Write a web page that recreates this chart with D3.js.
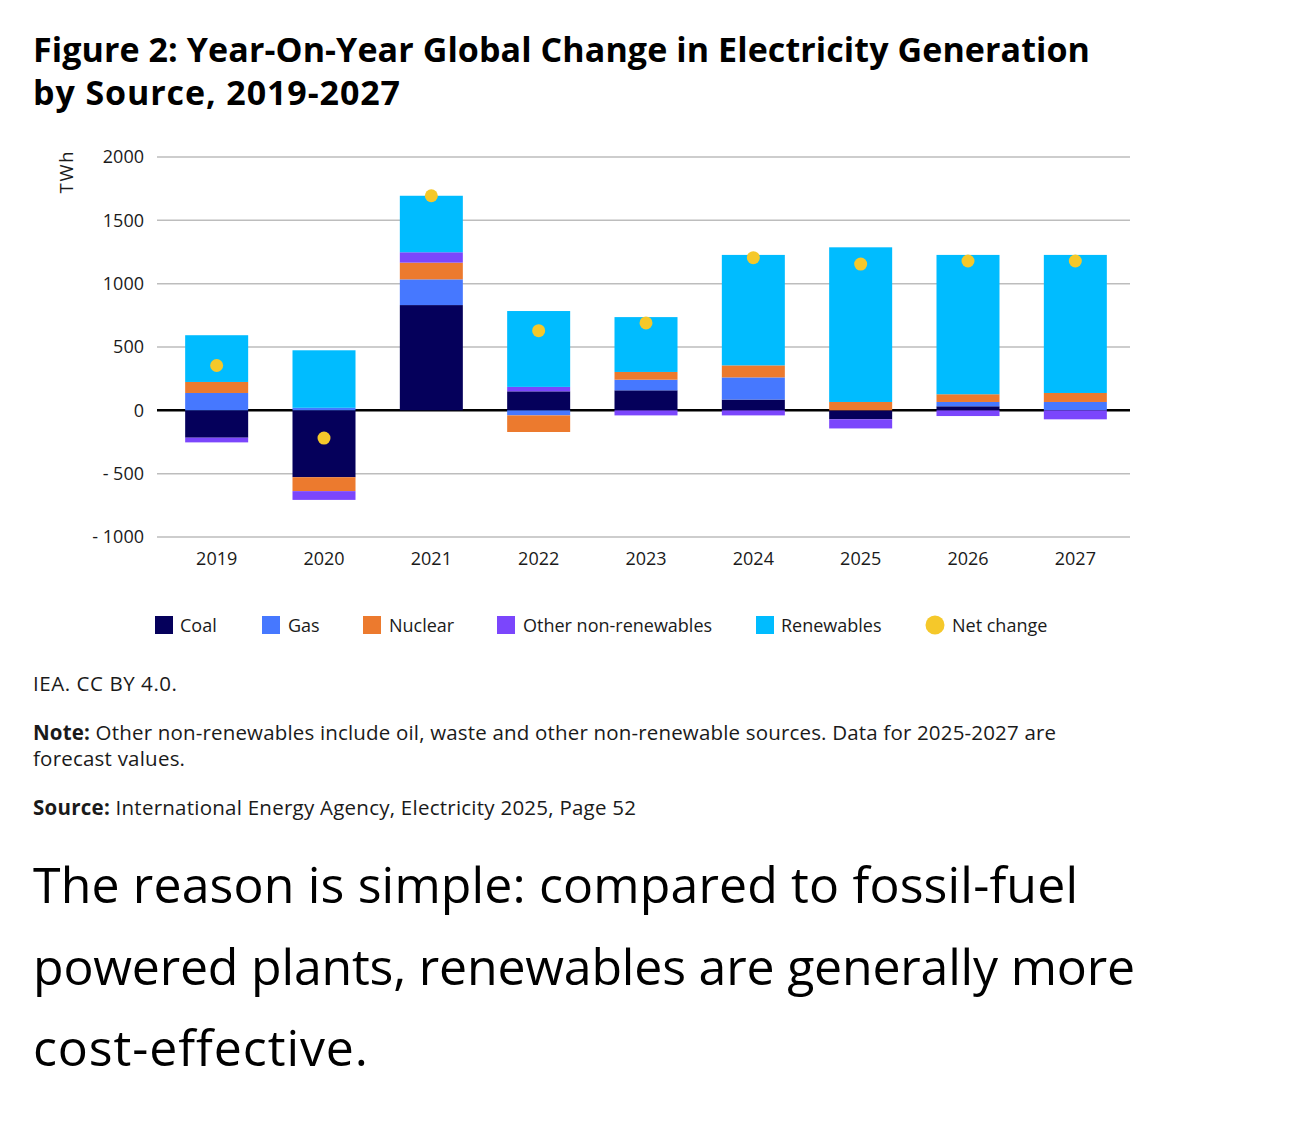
<!DOCTYPE html>
<html>
<head>
<meta charset="utf-8">
<script src="https://cdn.jsdelivr.net/npm/d3@7"></script>
<style>
  html, body { margin: 0; padding: 0; background: #fff; }
  svg { display: block; font-family: "Open Sans", "Noto Sans", sans-serif; }
</style>
</head>
<body>
<svg id="chart" width="1290" height="1130"></svg>
<script>
const years = ["2019","2020","2021","2022","2023","2024","2025","2026","2027"];
const coal       = [-216, -528, 831, 150, 158,  85,  -71,   32,    0];
const gas        = [ 137,   20, 203, -40,  84, 175,    0,   34,   66];
const nuclear    = [  87, -110, 132, -131, 61,  95,   66,   61,   71];
const other      = [ -37,  -69,  82,  35, -40, -40,  -72,  -45,  -71];
const renewables = [ 369,  454, 446, 599, 433, 872, 1221, 1100, 1090];
const netChange  = [ 354, -219, 1694, 629, 690, 1205, 1155, 1179, 1179];
const yTicks = [2000, 1500, 1000, 500, 0, -500, -1000];
const seriesKeys = ["coal","gas","nuclear","other","renewables"];
const colors = ["#05005b","#4678ff","#ec7a2e","#7b46fc","#00bcff"];
const netColor = "#f5c82a";

const rows = years.map((y,i) => ({year:y, coal:coal[i], gas:gas[i], nuclear:nuclear[i], other:other[i], renewables:renewables[i], net:netChange[i]}));

const svg = d3.select("#chart");
const textColor = "#1a1a1a";

// fit a text element to a target width via small letter-spacing
function fit(sel, w) {
  sel.each(function() {
    const n = this.getNumberOfChars();
    const cur = this.getComputedTextLength();
    if (n > 1) d3.select(this).attr("letter-spacing", ((w - cur) / (n - 1)).toFixed(3));
  });
  return sel;
}

// Title
fit(svg.append("text").attr("x",33).attr("y",62).attr("font-weight",700).attr("font-size",34).attr("fill","#000")
  .text("Figure 2: Year-On-Year Global Change in Electricity Generation"), 1057);
fit(svg.append("text").attr("x",33).attr("y",105).attr("font-weight",700).attr("font-size",34).attr("fill","#000")
  .text("by Source, 2019-2027"), 367);

const x = d3.scaleBand().domain(years).range([163,1129]).paddingInner(0.413).paddingOuter(0.2065);
const y = d3.scaleLinear().domain([-1000,2000]).range([537,157]);
const gridX0 = 157, gridX1 = 1130;

// gridlines
svg.append("g").selectAll("line").data(yTicks.filter(t=>t!==0)).join("line")
  .attr("x1",gridX0).attr("x2",gridX1).attr("y1",d=>y(d)).attr("y2",d=>y(d))
  .attr("stroke","#bdbdbd").attr("stroke-width",1.5);
svg.append("line").attr("x1",gridX0).attr("x2",gridX1).attr("y1",y(0)).attr("y2",y(0))
  .attr("stroke","#000").attr("stroke-width",2.5);

// y axis labels
const yAxis = d3.axisLeft(y).tickValues(yTicks).tickSize(0).tickPadding(0)
  .tickFormat(d => d < 0 ? "- " + Math.abs(d) : String(d));
const yg = svg.append("g").attr("transform","translate(144,0)").call(yAxis);
yg.select(".domain").remove();
yg.selectAll("text").attr("font-family","'Open Sans', sans-serif").attr("font-size",18).attr("fill",textColor);

svg.append("text").attr("transform","translate(73,171.5) rotate(-90)").attr("text-anchor","middle")
  .attr("font-size",18.5).attr("letter-spacing",1.8).attr("fill",textColor).text("TWh");

// stacked bars
const stack = d3.stack().keys(seriesKeys).offset(d3.stackOffsetDiverging);
const stacked = stack(rows);
svg.append("g").selectAll("g").data(stacked).join("g")
  .attr("fill",(d,i)=>colors[i])
  .selectAll("rect").data(d=>d).join("rect")
  .attr("x",d=>x(d.data.year)).attr("width",x.bandwidth())
  .attr("y",d=>y(Math.max(d[0],d[1]))).attr("height",d=>Math.abs(y(d[0])-y(d[1])));

// net change dots
svg.append("g").selectAll("circle").data(rows).join("circle")
  .attr("cx",d=>x(d.year)+x.bandwidth()/2).attr("cy",d=>y(d.net)).attr("r",6.5).attr("fill",netColor);

// x axis labels
const xAxis = d3.axisBottom(x).tickSize(0).tickPadding(0);
const xg = svg.append("g").attr("transform","translate(0,552)").call(xAxis);
xg.select(".domain").remove();
xg.selectAll("text").attr("font-family","'Open Sans', sans-serif").attr("font-size",18).attr("fill",textColor);

// legend
const legendItems = [
  {name:"Coal", color:colors[0], mx:155, tx:180},
  {name:"Gas", color:colors[1], mx:262, tx:288},
  {name:"Nuclear", color:colors[2], mx:363, tx:389},
  {name:"Other non-renewables", color:colors[3], mx:497, tx:523},
  {name:"Renewables", color:colors[4], mx:756, tx:781},
];
const lg = svg.append("g");
legendItems.forEach(it => {
  lg.append("rect").attr("x",it.mx).attr("y",616).attr("width",18).attr("height",18).attr("fill",it.color);
  lg.append("text").attr("x",it.tx).attr("y",631.5).attr("font-size",18).attr("fill",textColor).text(it.name);
});
lg.append("circle").attr("cx",935).attr("cy",625).attr("r",9.5).attr("fill",netColor);
lg.append("text").attr("x",952).attr("y",631.5).attr("font-size",18).attr("fill",textColor).text("Net change");

// footnotes
const fs = 20.5;
fit(svg.append("text").attr("x",33).attr("y",691).attr("font-size",fs).attr("fill",textColor).text("IEA. CC BY 4.0."), 144);
const note = svg.append("text").attr("x",33).attr("y",740).attr("font-size",fs).attr("fill",textColor);
note.append("tspan").attr("font-weight",700).text("Note:");
note.append("tspan").text(" Other non-renewables include oil, waste and other non-renewable sources. Data for 2025-2027 are");
fit(note, 1023);
fit(svg.append("text").attr("x",33).attr("y",766).attr("font-size",fs).attr("fill",textColor).text("forecast values."), 152);
const src = svg.append("text").attr("x",33).attr("y",815).attr("font-size",fs).attr("fill",textColor);
src.append("tspan").attr("font-weight",700).text("Source:");
src.append("tspan").text(" International Energy Agency, Electricity 2025, Page 52");
fit(src, 603);

// body text
const bodyLines = ["The reason is simple: compared to fossil-fuel","powered plants, renewables are generally more","cost-effective."];
const bodyWidths = [1045, 1102, 335];
svg.append("g").selectAll("text").data(bodyLines).join("text")
  .attr("x",33).attr("y",(d,i)=>903+i*81.5).attr("font-size",50).attr("fill","#000").text(d=>d)
  .each(function(d,i){ fit(d3.select(this), bodyWidths[i]); });
</script>
</body>
</html>
